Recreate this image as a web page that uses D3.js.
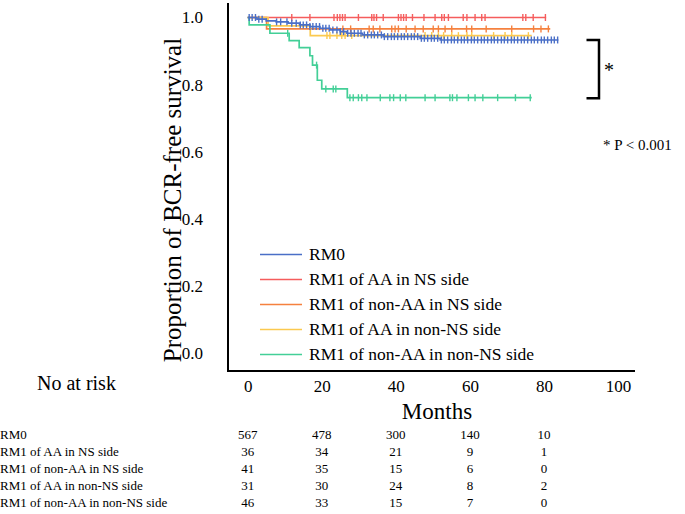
<!DOCTYPE html>
<html>
<head>
<meta charset="utf-8">
<script src="https://cdn.jsdelivr.net/npm/d3@7"></script>
<style>
    body { margin: 0; background: #fff; }
    svg text { font-family: 'Liberation Serif', 'Times New Roman', serif !important; fill: #000; }
</style>
</head>
<body>
<svg id="km-chart"></svg>
<script>
// Group names, in legend order
var groups = ["RM0", "RM1 of AA in NS side", "RM1 of non-AA in NS side",
    "RM1 of AA in non-NS side", "RM1 of non-AA in non-NS side"];

// Step times (months) and survival after each step
var rm0Times = [0, 2.5, 5, 7.7, 10.9, 14, 16.8, 19.5, 22.2, 25, 26.8, 31, 36.6, 46.6, 52];
var rm0Surv = [1, 0.995, 0.990, 0.987, 0.983, 0.978, 0.973, 0.968, 0.963, 0.958, 0.953, 0.948, 0.943, 0.938, 0.933];
var aaNsTimes = [0];
var aaNsSurv = [1];
var nonAaNsTimes = [0, 5.1];
var nonAaNsSurv = [1, 0.966];
var aaNonNsTimes = [0, 5.5, 16.9];
var aaNonNsSurv = [1, 0.975, 0.946];
var nonAaNonNsTimes = [0, 0.4, 6.0, 11.2, 13.9, 16.8, 17.5, 18.8, 20.0, 26.9];
var nonAaNonNsSurv = [1, 0.978, 0.953, 0.931, 0.910, 0.886, 0.858, 0.813, 0.787, 0.761];

// Last follow-up of each curve
var endTimes = [83.9, 80.6, 81.7, 76.7, 76.7];

// Censored observations (months)
var rm0Censor = [0.4, 1.2, 2.1, 3.0, 3.9, 7.8, 8.9, 10.6, 11.9, 13.1, 14.2, 15.0, 15.9, 16.8,
    17.6, 18.5, 19.4, 20.3, 21.1, 22.0, 23.0, 24.1, 25.0, 25.9, 27.0, 27.9, 28.8, 29.8,
    30.6, 31.5, 32.4, 33.4, 34.2, 35.1, 36.1, 36.9, 37.8, 38.8, 39.6, 40.5, 41.5, 42.3,
    43.2, 44.2, 45.0, 45.9, 46.9, 47.7, 48.6, 49.6, 50.4, 51.3, 52.3, 53.1, 54.0, 55.0,
    55.8, 56.7, 57.7, 58.5, 59.4, 60.4, 61.2, 62.1, 63.1, 63.9, 64.8, 65.8, 66.6, 67.5,
    68.5, 69.3, 70.2, 71.2, 72.0, 72.9, 73.9, 74.7, 75.6, 76.6, 77.4, 78.3, 79.3, 80.1,
    81.0, 82.0, 82.8, 83.7];
var aaNsCensor = [11.9, 16.8, 23.3, 24.2, 24.9, 25.6, 26.3, 29.9, 33.5, 34.1, 34.8, 36.6,
    40.7, 41.4, 42.1, 42.8, 44.5, 47.6, 50.6, 52.4, 53.1, 54.2, 58.2, 59.2, 61.4, 63.2,
    64.1, 74.3, 75.1, 77.1, 80.4];
var nonAaNsCensor = [25.7, 27.8, 32.8, 33.9, 35.7, 38.9, 39.8, 40.7, 42.8, 45.2, 47.4,
    50.1, 51.5, 53.3, 55.1, 59.1, 60.5, 64.4, 71.3, 77.2, 79.2, 81.2];
var aaNonNsCensor = [21.4, 22.2, 24.1, 25.4, 26.3, 28.1, 47.9, 49.7, 51.5, 52.9, 55.1,
    56.9, 59.2, 60.5, 66.4, 69.5, 71.3, 75.8];
var nonAaNonNsCensor = [10.8, 18.6, 21.1, 23.1, 23.8, 27.6, 28.5, 29.9, 30.8, 32.2, 35.8,
    38.4, 39.4, 41.2, 42.7, 47.9, 50.6, 54.6, 55.3, 56.5, 59.6, 61.4, 63.5, 67.5, 72.3, 76.3];

// Numbers at risk
var riskMonths = [0, 20, 40, 60, 80];
var riskRm0 = [567, 478, 300, 140, 10];
var riskAaNs = [36, 34, 21, 9, 1];
var riskNonAaNs = [41, 35, 15, 6, 0];
var riskAaNonNs = [31, 30, 24, 8, 2];
var riskNonAaNonNs = [46, 33, 15, 7, 0];

var xTicks = [0, 20, 40, 60, 80, 100];
var yTicks = [0, 0.2, 0.4, 0.6, 0.8, 1.0];

var colours = ["#4a6fc7", "#f55d5d", "#f5813f", "#fbc94f", "#43cf97"];

var allTimes = [rm0Times, aaNsTimes, nonAaNsTimes, aaNonNsTimes, nonAaNonNsTimes];
var allSurv = [rm0Surv, aaNsSurv, nonAaNsSurv, aaNonNsSurv, nonAaNonNsSurv];
var allCensor = [rm0Censor, aaNsCensor, nonAaNsCensor, aaNonNsCensor, nonAaNonNsCensor];
var allRisk = [riskRm0, riskAaNs, riskNonAaNs, riskAaNonNs, riskNonAaNonNs];

// Size of the picture
var width = 685,
    height = 514;

// Scales
var x = d3.scaleLinear().domain([0, 100]).range([247.7, 618]);
var y = d3.scaleLinear().domain([0, 1]).range([353, 17.5]);

var svg = d3.select("#km-chart")
    .attr("width", width)
    .attr("height", height);

// Survival at time t for curve i
function survAt(i, t) {
    var times = allTimes[i], surv = allSurv[i], s = surv[0];
    for (var k = 0; k < times.length; k++) {
        if (times[k] <= t) s = surv[k];
    }
    return s;
}

var line = d3.line()
    .x(function (d) { return x(d[0]); })
    .y(function (d) { return y(d[1]); })
    .curve(d3.curveStepAfter);

// Axes: labels only, plain black lines drawn separately
var xAxis = d3.axisBottom(x).tickValues(xTicks).tickSize(0).tickPadding(9);
var gx = svg.append("g")
    .attr("transform", "translate(0," + 371 + ")")
    .call(xAxis)
    .attr("font-family", "Liberation Serif")
    .attr("font-size", 17);
gx.select(".domain").remove();
svg.append("line")
    .attr("x1", 228).attr("x2", 635)
    .attr("y1", 371).attr("y2", 371)
    .attr("stroke", "#000").attr("stroke-width", 2);

var yAxis = d3.axisLeft(y).tickValues(yTicks).tickFormat(d3.format(".1f")).tickSize(0).tickPadding(25);
var gy = svg.append("g")
    .attr("transform", "translate(228,0)")
    .call(yAxis)
    .attr("font-family", "Liberation Serif")
    .attr("font-size", 17);
gy.select(".domain").remove();
svg.append("line")
    .attr("x1", 228).attr("x2", 228)
    .attr("y1", 3).attr("y2", 372)
    .attr("stroke", "#000").attr("stroke-width", 2);

// Axis titles
svg.append("text")
    .attr("transform", "translate(181,200) rotate(-90)")
    .style("text-anchor", "middle")
    .style("font-size", "25px")
    .text("Proportion of BCR-free survival");

svg.append("text")
    .attr("x", 437)
    .attr("y", 419)
    .style("text-anchor", "middle")
    .style("font-size", "23px")
    .text("Months");

// Curves, drawn from last group to first so RM0 sits on top
var order = [1, 2, 3, 4, 0];
order.forEach(function (i) {
    var pts = allTimes[i].map(function (t, k) { return [t, allSurv[i][k]]; });
    pts.push([endTimes[i], allSurv[i][allSurv[i].length - 1]]);

    svg.append("path")
        .datum(pts)
        .attr("d", line)
        .attr("fill", "none")
        .attr("stroke", colours[i])
        .attr("stroke-width", 1.7);

    svg.append("g")
        .selectAll("line")
        .data(allCensor[i])
        .enter().append("line")
        .attr("x1", function (d) { return x(d); })
        .attr("x2", function (d) { return x(d); })
        .attr("y1", function (d) { return y(survAt(i, d)) - 3.5; })
        .attr("y2", function (d) { return y(survAt(i, d)) + 3.5; })
        .attr("stroke", colours[i])
        .attr("stroke-width", 1.4);
});

// Significance bracket
svg.append("path")
    .attr("d", "M586.5," + y(0.933) + "H599V" + y(0.759) + "H586.5")
    .attr("fill", "none")
    .attr("stroke", "#000")
    .attr("stroke-width", 2.5);

svg.append("text")
    .attr("x", 609)
    .attr("y", 77)
    .style("text-anchor", "middle")
    .style("font-size", "20px")
    .text("*");

svg.append("text")
    .attr("x", 603)
    .attr("y", 150)
    .style("font-size", "15px")
    .text("* P < 0.001");

// Legend
var legend = svg.append("g")
    .selectAll("g")
    .data(groups)
    .enter().append("g")
    .attr("transform", function (d, i) { return "translate(260," + (254.5 + i * 25) + ")"; });

legend.append("line")
    .attr("x1", 0).attr("x2", 42)
    .attr("stroke", function (d, i) { return colours[i]; })
    .attr("stroke-width", 1.7);

legend.append("text")
    .attr("x", 49)
    .attr("dy", "0.33em")
    .style("font-size", "17.5px")
    .text(function (d) { return d; });

// Number at risk table
svg.append("text")
    .attr("x", 37)
    .attr("y", 390)
    .style("font-size", "20px")
    .text("No at risk");

var rows = svg.append("g")
    .selectAll("g")
    .data(groups)
    .enter().append("g")
    .attr("transform", function (d, i) { return "translate(0," + (434 + i * 17) + ")"; });

rows.append("text")
    .attr("x", 0)
    .attr("dy", "0.35em")
    .style("font-size", "13px")
    .text(function (d) { return d; });

rows.each(function (d, i) {
    d3.select(this).selectAll(".risk")
        .data(allRisk[i])
        .enter().append("text")
        .attr("class", "risk")
        .attr("x", function (v, k) { return x(riskMonths[k]); })
        .attr("dy", "0.35em")
        .style("text-anchor", "middle")
        .style("font-size", "13px")
        .text(function (v) { return v; });
});
</script>
</body>
</html>
